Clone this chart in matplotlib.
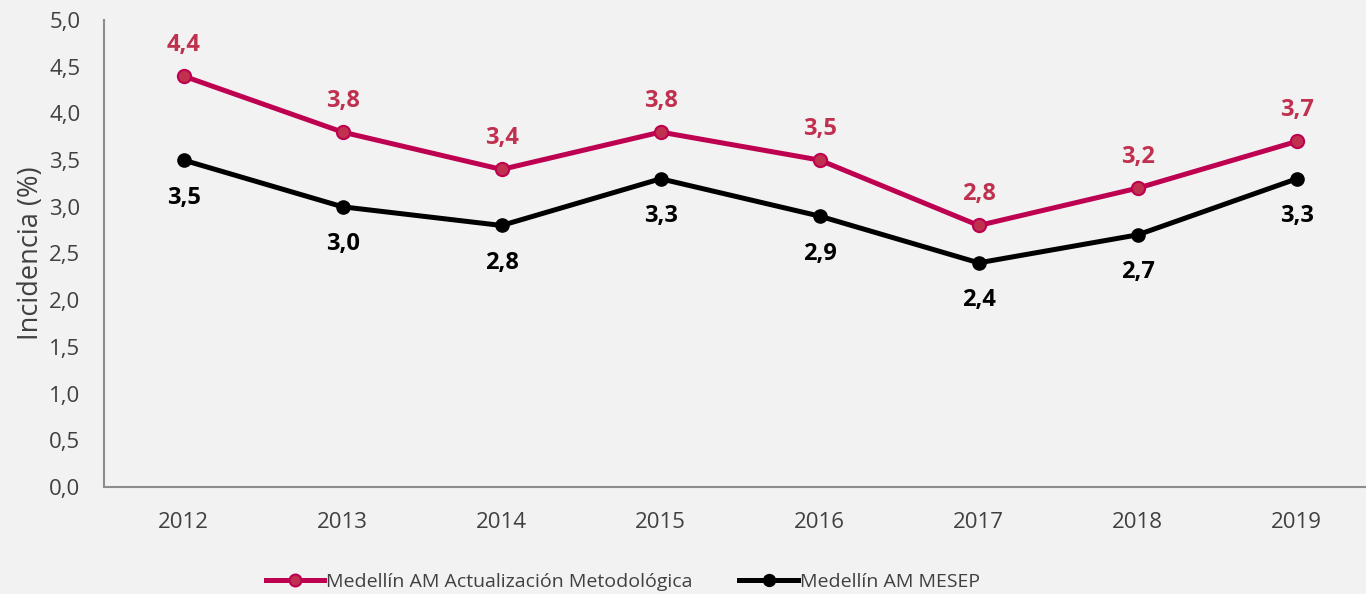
import matplotlib.pyplot as plt
import numpy as np

plt.rcParams['font.family'] = ['Open Sans', 'DejaVu Sans']

years = ['2012', '2013', '2014', '2015', '2016', '2017', '2018', '2019']
actualizacion = [4.4, 3.8, 3.4, 3.8, 3.5, 2.8, 3.2, 3.7]
mesep = [3.5, 3.0, 2.8, 3.3, 2.9, 2.4, 2.7, 3.3]
y_ticks = [0.0, 0.5, 1.0, 1.5, 2.0, 2.5, 3.0, 3.5, 4.0, 4.5, 5.0]

bg = '#f2f2f2'
pink = '#be0050'
pink_face = '#c0304f'

fig = plt.figure(figsize=(13.66, 5.94), dpi=100, facecolor=bg)
ax = fig.add_axes([104 / 1366, 107 / 594, 1 - 104 / 1366, 467 / 594])
ax.set_facecolor(bg)

x = np.arange(len(years))
ax.plot(x, actualizacion, color=pink, lw=3.6, marker='o', ms=9.5,
        mfc=pink_face, mec=pink, mew=1.5,
        label='Medellín AM Actualización Metodológica', clip_on=False)
ax.plot(x, mesep, color='black', lw=3.6, marker='o', ms=9.5,
        mfc='black', mec='black', label='Medellín AM MESEP', clip_on=False)

for xi, v in zip(x, actualizacion):
    ax.annotate(f'{v:.1f}'.replace('.', ','), (xi, v), xytext=(0, 22.5),
                textcoords='offset points', ha='center', va='center',
                fontsize=17, fontweight='bold', color=pink_face)
for xi, v in zip(x, mesep):
    ax.annotate(f'{v:.1f}'.replace('.', ','), (xi, v), xytext=(0, -27),
                textcoords='offset points', ha='center', va='center',
                fontsize=17, fontweight='bold', color='black')

ax.set_xlim(-0.5, 7.435)
ax.set_ylim(0, 5)
ax.set_xticks(x)
ax.set_xticklabels(years)
ax.set_yticks(y_ticks)
ax.set_yticklabels([f'{t:.1f}'.replace('.', ',') for t in y_ticks])
ax.tick_params(axis='both', length=0, labelsize=16, colors='#404040')
ax.tick_params(axis='x', pad=18)
ax.tick_params(axis='y', pad=17)

for s in ['top', 'right']:
    ax.spines[s].set_visible(False)
for s in ['left', 'bottom']:
    ax.spines[s].set_color('#8c8c8c')
    ax.spines[s].set_linewidth(1.5)

ax.set_ylabel('Incidencia (%)', fontsize=19.5, color='#404040', labelpad=3)

fig.legend(loc='center', bbox_to_anchor=(0.456, 0.02), ncol=2, frameon=False,
           fontsize=14, handlelength=3.0, handletextpad=0.1, columnspacing=2.4,
           labelcolor='#404040', markerscale=0.9)

fig.savefig('out.png', dpi=100, facecolor=bg)
